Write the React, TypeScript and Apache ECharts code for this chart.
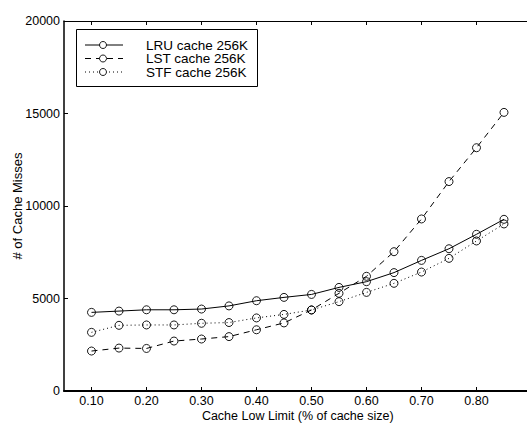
import React, { useEffect, useRef } from "react";
import * as echarts from "echarts";

const xValues = [0.1, 0.15, 0.2, 0.25, 0.3, 0.35, 0.4, 0.45, 0.5, 0.55, 0.6, 0.65, 0.7, 0.75, 0.8, 0.85];
const lruValues = [4250, 4320, 4390, 4390, 4430, 4600, 4880, 5060, 5220, 5600, 5910, 6400, 7060, 7690, 8470, 9280];
const lstValues = [2160, 2320, 2300, 2700, 2810, 2940, 3310, 3680, 4380, 5280, 6200, 7530, 9300, 11320, 13150, 15060];
const stfValues = [3170, 3550, 3570, 3570, 3660, 3700, 3950, 4140, 4380, 4830, 5330, 5820, 6430, 7170, 8110, 9030];
const xTicks = [0.1, 0.2, 0.3, 0.4, 0.5, 0.6, 0.7, 0.8];
const seriesNames = ["LRU cache 256K", "LST cache 256K", "STF cache 256K"];

const FONT = "Liberation Sans, Arial, Helvetica, sans-serif";

export default function App() {
  const ref = useRef<HTMLDivElement>(null);
  useEffect(() => {
    if (!ref.current) return;
    const chart = echarts.init(ref.current, undefined, { renderer: "svg" });
    const mk = (vals: number[]) => xValues.map((x, i) => [x, vals[i]]);
    const lineTypes: any[] = ["solid", [6, 5], [1, 3]];
    const datas = [lruValues, lstValues, stfValues];
    const series = datas.map((d, i) => ({
      type: "line",
      name: seriesNames[i],
      data: mk(d),
      symbol: "circle",
      symbolSize: 8,
      showSymbol: true,
      lineStyle: { color: "#000", width: 1, type: lineTypes[i] },
      itemStyle: { color: "rgba(255,255,255,0)", borderColor: "#000", borderWidth: 0.9 },
      emphasis: { disabled: true },
      z: 3 + i,
    }));

    const legendGraphics: any[] = [
      {
        type: "rect",
        shape: { x: 76.5, y: 29.5, width: 181, height: 57 },
        style: { fill: "#fff", stroke: "#000", lineWidth: 1 },
        z: 100,
      },
    ];
    const rowY = [45, 58.5, 72];
    rowY.forEach((y, i) => {
      legendGraphics.push({
        type: "line",
        shape: { x1: 85, y1: y, x2: 123, y2: y },
        style: { stroke: "#000", lineWidth: 1, lineDash: i === 0 ? null : i === 1 ? [6, 5] : [1, 3] },
        z: 101,
      });
      legendGraphics.push({
        type: "circle",
        shape: { cx: 103, cy: y, r: 3.5 },
        style: { fill: "#fff", stroke: "#000", lineWidth: 0.9 },
        z: 102,
      });
      legendGraphics.push({
        type: "text",
        x: 146,
        y: y,
        style: {
          text: seriesNames[i],
          font: `13.5px ${FONT}`,
          lineHeight: 13,
          fill: "#000",
          verticalAlign: "middle",
          align: "left",
        },
        z: 102,
      });
    });

    chart.setOption({
      animation: false,
      backgroundColor: "#fff",
      textStyle: { fontFamily: FONT },
      grid: { left: 64, top: 21, width: 467.5, height: 370, containLabel: false, outerBoundsMode: "none" },
      xAxis: [
        {
          type: "value",
          min: 0.05,
          max: 0.9,
          position: "bottom",
          name: "Cache Low Limit (% of cache size)",
          nameLocation: "middle",
          nameGap: 18,
          nameMoveOverlap: false,
          nameTextStyle: { fontSize: 12.5, color: "#000", fontFamily: FONT },
          axisLine: { show: true, onZero: false, lineStyle: { color: "#000", width: 2 } },
          axisTick: { show: true, inside: true, length: 4, customValues: xTicks, lineStyle: { color: "#000" } },
          axisLabel: {
            show: true,
            customValues: xTicks,
            formatter: (v: number) => v.toFixed(2),
            fontSize: 12.5,
            color: "#000",
            margin: 3,
            fontFamily: FONT,
          },
          splitLine: { show: false },
        },
        {
          type: "value",
          min: 0.05,
          max: 0.9,
          position: "top",
          axisLine: { show: true, onZero: false, lineStyle: { color: "#000", width: 1 } },
          axisTick: { show: true, inside: true, length: 4, customValues: xTicks, lineStyle: { color: "#000" } },
          axisLabel: { show: false },
          splitLine: { show: false },
        },
      ],
      yAxis: {
        type: "value",
        min: 0,
        max: 20000,
        interval: 5000,
        name: "# of Cache Misses",
        nameLocation: "middle",
        nameGap: 40,
        nameMoveOverlap: false,
        nameTextStyle: { fontSize: 13, color: "#000", fontFamily: FONT },
        axisLine: { show: true, lineStyle: { color: "#000", width: 1.5 } },
        axisTick: { show: true, inside: true, length: 4, lineStyle: { color: "#000" } },
        axisLabel: { fontSize: 12.5, color: "#000", margin: 4, fontFamily: FONT, formatter: (v: number) => String(v) },
        splitLine: { show: false },
      },
      series,
      graphic: legendGraphics,
    });
    return () => chart.dispose();
  }, []);
  return (
    <div
      ref={ref}
      style={{ position: "fixed", left: 0, top: 0, width: 527, height: 427, background: "#fff" }}
    />
  );
}
